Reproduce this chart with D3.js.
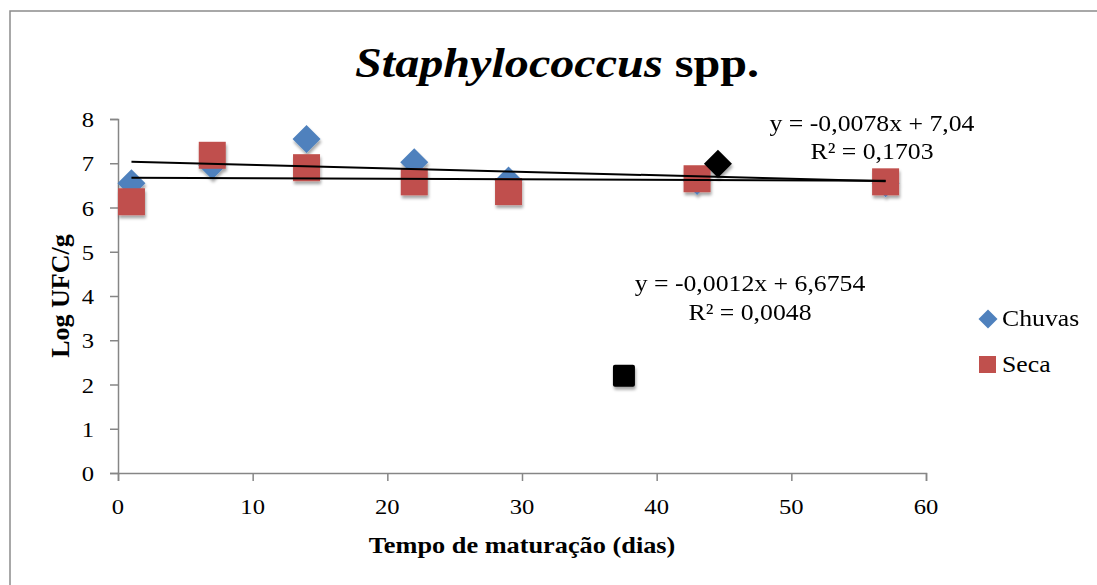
<!DOCTYPE html>
<html>
<head>
<meta charset="utf-8">
<script src="https://cdn.jsdelivr.net/npm/d3@7"></script>
<style>
  html, body { margin: 0; padding: 0; background: #fff; }
</style>
</head>
<body>
<div id="chart"></div>
<script>
// ---- data ----
const days = [1, 7, 14, 22, 29, 43, 57];
const chuvas = [6.55, 6.95, 7.55, 7.02, 6.61, 6.6, 6.55];
const seca = [6.13, 7.18, 6.9, 6.58, 6.36, 6.65, 6.58];
// stray black markers in the original
const blackDiamond = [44.55, 6.99];
const blackSquare = [37.57, 2.2];
// trendlines (slope, intercept) as printed
const trendChuvas = [-0.0078, 7.04];
const trendSeca = [-0.0012, 6.6754];
const eqChuvas = ["y = -0,0078x + 7,04", "R² = 0,1703"];
const eqSeca = ["y = -0,0012x + 6,6754", "R² = 0,0048"];
const xTicks = [0, 10, 20, 30, 40, 50, 60];
const yTicks = [0, 1, 2, 3, 4, 5, 6, 7, 8];
const seriesNames = ["Chuvas", "Seca"];

const width = 1097, height = 585;
const sx = 1.12; // original picture is a bit stretched horizontally
const blue = "#4F81BD", red = "#C0504D", axisGrey = "#868686";
const serif = "'Liberation Serif', 'Times New Roman', Times, serif";

const svg = d3.select("#chart").append("svg")
  .attr("width", width).attr("height", height)
  .attr("font-family", serif);

/*---- shadow ----*/
const defs = svg.append("defs");
defs.append("filter").attr("id", "shadow")
  .attr("x", "-30%").attr("y", "-30%").attr("width", "170%").attr("height", "170%")
  .append("feDropShadow")
  .attr("dx", 1).attr("dy", 3).attr("stdDeviation", 1.6)
  .attr("flood-color", "#000").attr("flood-opacity", 0.35);

// outer frame (right and bottom edges fall outside the picture)
svg.append("rect")
  .attr("x", 10).attr("y", 11).attr("width", 1100).attr("height", 590)
  .attr("fill", "none").attr("stroke", "#8c8c8c").attr("stroke-width", 1.5);

/*---- scales ----*/
const x = d3.scaleLinear().domain([0, 60]).range([118, 926]);
const y = d3.scaleLinear().domain([0, 8]).range([473, 119]);

// stretched text helper
function stext(parent, tx, ty, str, size, anchor, weight) {
  const g = parent.append("g").attr("transform", `translate(${tx},${ty})`);
  const t = g.append("text")
    .attr("transform", `scale(${sx},1)`)
    .attr("text-anchor", anchor || "start")
    .attr("font-family", serif)
    .attr("font-size", size)
    .attr("font-weight", weight || "normal")
    .attr("fill", "#000")
    .text(str);
  return t;
}

/*---- axes ----*/
const xAxis = svg.append("g")
  .attr("transform", `translate(0,${y(0)})`)
  .call(d3.axisBottom(x).tickValues(xTicks).tickSize(8).tickFormat(""));
const yAxis = svg.append("g")
  .attr("transform", `translate(${x(0)},0)`)
  .call(d3.axisLeft(y).tickValues(yTicks).tickSize(8).tickFormat(""));
[xAxis, yAxis].forEach(a => {
  a.select(".domain").attr("stroke", axisGrey).attr("stroke-width", 1.5);
  a.selectAll(".tick line").attr("stroke", axisGrey).attr("stroke-width", 1.5);
});

xTicks.forEach(v => stext(svg, x(v), 514, String(v), 22, "middle"));
yTicks.forEach(v => stext(svg, 94, y(v) + 8, String(v), 22, "end"));

/*---- titles ----*/
const title = stext(svg, 557, 77, "", 43, "middle", "bold");
title.append("tspan").attr("font-style", "italic").text("Staphylococcus");
title.append("tspan").text(" spp.");

stext(svg, 522, 553, "Tempo de maturação (dias)", 23.5, "middle", "bold");

svg.append("text")
  .attr("transform", "translate(69,296) rotate(-90)")
  .attr("text-anchor", "middle")
  .attr("font-family", serif)
  .attr("font-size", 26).attr("font-weight", "bold")
  .text("Log UFC/g");

/*---- markers ----*/
function diamondPath(half) {
  return `M0,${-half}L${half},0L0,${half}L${-half},0Z`;
}

const pts = svg.append("g").attr("filter", "url(#shadow)");

pts.selectAll(".chuvas").data(days.map((d, i) => [d, chuvas[i]]))
  .enter().append("path")
  .attr("class", "chuvas")
  .attr("d", diamondPath(14))
  .attr("transform", d => `translate(${x(d[0])},${y(d[1])})`)
  .attr("fill", blue);

pts.selectAll(".seca").data(days.map((d, i) => [d, seca[i]]))
  .enter().append("rect")
  .attr("class", "seca")
  .attr("x", d => x(d[0]) - 13.5).attr("y", d => y(d[1]) - 13.5)
  .attr("width", 27).attr("height", 27)
  .attr("fill", red);

pts.append("path")
  .attr("d", diamondPath(14))
  .attr("transform", `translate(${x(blackDiamond[0])},${y(blackDiamond[1])})`)
  .attr("fill", "#000");

pts.append("rect")
  .attr("x", x(blackSquare[0]) - 11).attr("y", y(blackSquare[1]) - 11)
  .attr("width", 22).attr("height", 22).attr("rx", 2)
  .attr("fill", "#000");

/*---- trendlines ----*/
const line = d3.line().x(d => x(d[0])).y(d => y(d[1]));
[trendChuvas, trendSeca].forEach(t => {
  const ends = [days[0], days[days.length - 1]].map(d => [d, t[0] * d + t[1]]);
  svg.append("path").attr("d", line(ends))
    .attr("fill", "none").attr("stroke", "#000").attr("stroke-width", 2);
});

/*---- equations ----*/
eqChuvas.forEach((s, i) => stext(svg, 872, 131 + i * 28, s, 23, "middle"));
eqSeca.forEach((s, i) => stext(svg, 750, 291 + i * 29, s, 23, "middle"));

/*---- legend ----*/
const legend = svg.append("g");
legend.append("path").attr("d", diamondPath(9.5))
  .attr("transform", "translate(988,319)").attr("fill", blue);
legend.append("rect").attr("x", 979).attr("y", 356)
  .attr("width", 17).attr("height", 17).attr("fill", red);
stext(legend, 1002, 326, seriesNames[0], 23, "start");
stext(legend, 1002, 372, seriesNames[1], 23, "start");
</script>
</body>
</html>
